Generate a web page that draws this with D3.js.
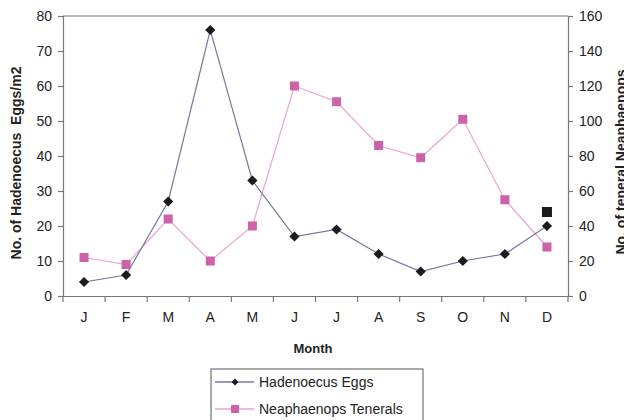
<!DOCTYPE html>
<html><head><meta charset="utf-8">
<script src="https://cdn.jsdelivr.net/npm/d3@7"></script>
<style>body{margin:0;background:#fff;overflow:hidden;} text{font-family:"Liberation Sans",Arial,sans-serif;}</style>
</head><body>
<svg id="c" width="624" height="420"></svg>
<script>
const months = ["J","F","M","A","M","J","J","A","S","O","N","D"];
const hadenoecusEggs = [4, 6, 27, 76, 33, 17, 19, 12, 7, 10, 12, 20];
const neaphaenopsTenerals = [22, 18, 44, 20, 40, 120, 111, 86, 79, 101, 55, 28];
const extraPoint = [{month: 11, value: 24}];
const leftTicks = [0,10,20,30,40,50,60,70,80];
const rightTicks = [0,20,40,60,80,100,120,140,160];

const svg = d3.select("#c");
const L = 63, R = 568, T = 16, B = 296;
const x = d3.scaleBand().domain(d3.range(12)).range([L, R]);
const yL = d3.scaleLinear().domain([0, 80]).range([B, T]);
const yR = d3.scaleLinear().domain([0, 160]).range([B, T]);
const axisColor = "#777";

// top border
svg.append("line").attr("x1", L).attr("x2", R).attr("y1", T).attr("y2", T).attr("stroke", axisColor).attr("stroke-width", 1.2);

const gL = svg.append("g").attr("transform", `translate(${L},0)`)
  .call(d3.axisLeft(yL).tickValues(leftTicks).tickSize(5).tickPadding(6));
const gR = svg.append("g").attr("transform", `translate(${R},0)`)
  .call(d3.axisRight(yR).tickValues(rightTicks).tickSize(5).tickPadding(6));
const gX = svg.append("g").attr("transform", `translate(0,${B})`)
  .call(d3.axisBottom(x).tickFormat(i => months[i]).tickSize(0).tickPadding(16));
// boundary ticks for x axis
svg.append("g").selectAll("line").data(d3.range(13)).join("line")
  .attr("x1", i => L + i * x.step()).attr("x2", i => L + i * x.step())
  .attr("y1", B).attr("y2", B + 6).attr("stroke", axisColor).attr("stroke-width", 1.2);

[gL, gR, gX].forEach(g => {
  g.selectAll("path,line").attr("stroke", axisColor).attr("stroke-width", 1.2);
  g.selectAll("text").attr("font-size", 14).attr("fill", "#222").attr("font-family", "Liberation Sans, Arial, sans-serif");
});

const cx = i => x(i) + x.bandwidth() / 2;

// Neaphaenops line
svg.append("path").datum(neaphaenopsTenerals)
  .attr("fill", "none").attr("stroke", "#e8a6d4").attr("stroke-width", 1.2)
  .attr("d", d3.line().x((d, i) => cx(i)).y(d => yR(d)));
// Hadenoecus line
svg.append("path").datum(hadenoecusEggs)
  .attr("fill", "none").attr("stroke", "#7478a0").attr("stroke-width", 1.2)
  .attr("d", d3.line().x((d, i) => cx(i)).y(d => yL(d)));

svg.append("g").selectAll("rect").data(neaphaenopsTenerals).join("rect")
  .attr("x", (d, i) => cx(i) - 4.5).attr("y", d => yR(d) - 4.5)
  .attr("width", 9).attr("height", 9).attr("fill", "#cc63a8");

const diamond = d3.symbol().type(d3.symbolSquare).size(52);
svg.append("g").selectAll("path").data(hadenoecusEggs).join("path")
  .attr("d", diamond)
  .attr("transform", (d, i) => `translate(${cx(i)},${yL(d)}) rotate(45)`)
  .attr("fill", "#1c1c1c");

svg.append("g").selectAll("rect").data(extraPoint).join("rect")
  .attr("x", d => cx(d.month) - 5).attr("y", d => yL(d.value) - 5)
  .attr("width", 10).attr("height", 10).attr("fill", "#1c1c1c");

// axis titles
svg.append("text").attr("transform", `translate(21,163) rotate(-90)`)
  .attr("text-anchor", "middle").attr("font-weight", "bold").attr("font-size", 14).attr("fill", "#222")
  .attr("xml:space", "preserve").style("white-space", "pre")
  .text("No. of Hadenoecus  Eggs/m2");
svg.append("text").attr("transform", `translate(626,162) rotate(-90)`)
  .attr("text-anchor", "middle").attr("font-weight", "bold").attr("font-size", 14).attr("fill", "#222")
  .text("No. of teneral Neaphaenops");
svg.append("text").attr("x", 313).attr("y", 353).attr("text-anchor", "middle")
  .attr("font-weight", "bold").attr("font-size", 13).attr("fill", "#222").text("Month");

// legend
const lg = svg.append("g");
lg.append("rect").attr("x", 211).attr("y", 369).attr("width", 212).attr("height", 60)
  .attr("fill", "#fff").attr("stroke", "#555").attr("stroke-width", 1);
const legendItems = [
  {label: "Hadenoecus Eggs", color: "#7478a0", marker: "diamond"},
  {label: "Neaphaenops Tenerals", color: "#e8a6d4", marker: "square"}
];
legendItems.forEach((it, k) => {
  const yy = 382 + k * 27;
  lg.append("line").attr("x1", 215).attr("x2", 254).attr("y1", yy).attr("y2", yy)
    .attr("stroke", it.color).attr("stroke-width", 1.5);
  if (it.marker === "diamond") {
    lg.append("path").attr("d", d3.symbol().type(d3.symbolSquare).size(24))
      .attr("transform", `translate(235,${yy}) rotate(45)`).attr("fill", "#1c1c1c");
  } else {
    lg.append("rect").attr("x", 231).attr("y", yy - 4).attr("width", 8).attr("height", 8).attr("fill", "#cc63a8");
  }
  lg.append("text").attr("x", 259).attr("y", yy + 5).attr("font-size", 14).attr("fill", "#222").text(it.label);
});
</script>
</body></html>
